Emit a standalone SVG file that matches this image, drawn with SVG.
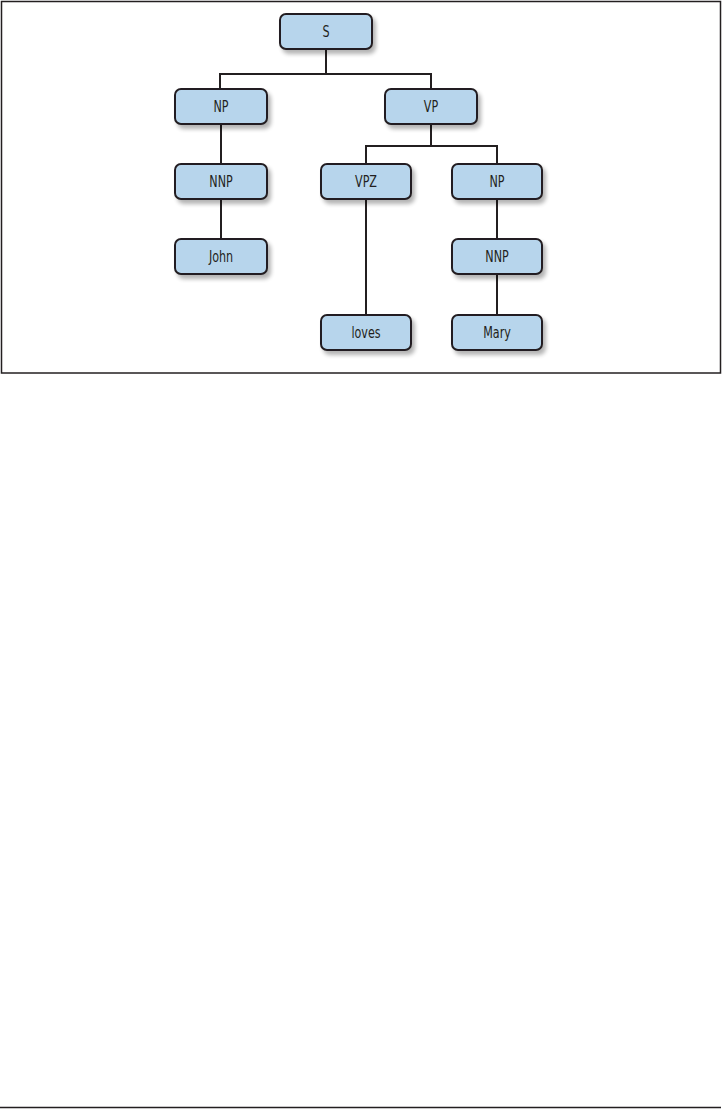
<svg xmlns="http://www.w3.org/2000/svg" width="722" height="1109" viewBox="0 0 722 1109">
<defs>
<filter id="sh" x="-20%" y="-30%" width="150%" height="180%">
<feGaussianBlur in="SourceAlpha" stdDeviation="2"/>
<feOffset dx="3" dy="4" result="b"/>
<feComponentTransfer><feFuncA type="linear" slope="0.3"/></feComponentTransfer>
<feMerge><feMergeNode/><feMergeNode in="SourceGraphic"/></feMerge>
</filter>
<style>
.box{fill:#b7d5ec;stroke:#231f20;stroke-width:2;filter:url(#sh)}
.lbl{font-family:"DejaVu Sans Condensed","Liberation Sans Narrow","Liberation Sans",sans-serif;font-stretch:condensed;font-size:15.5px;fill:#231f20;text-anchor:middle}
.c{fill:none;stroke:#231f20;stroke-width:2}
</style>
</defs>
<rect x="0" y="0" width="722" height="1109" fill="#ffffff"/>
<rect x="1.5" y="1.5" width="719" height="371.5" fill="none" stroke="#231f20" stroke-width="1.5"/>
<line x1="0" y1="1107.5" x2="721" y2="1107.5" stroke="#231f20" stroke-width="1.5"/>
<g id="connectors">
<path class="c" d="M326 49V74M220 89V74H431V89"/>
<path class="c" d="M221 124V164M221 199V239"/>
<path class="c" d="M431 124V146M366 164V146H497V164"/>
<path class="c" d="M366 199V315"/>
<path class="c" d="M497 199V239M497 274V315"/>
</g>
<g id="S"><rect class="box" x="280" y="14" width="92" height="35" rx="6"/><text class="lbl" transform="translate(326 37) scale(0.8 1)">S</text></g>
<g id="NP1"><rect class="box" x="175" y="89" width="92" height="35" rx="6"/><text class="lbl" transform="translate(221 112) scale(0.8 1)">NP</text></g>
<g id="VP"><rect class="box" x="385" y="89" width="92" height="35" rx="6"/><text class="lbl" transform="translate(431 112) scale(0.8 1)">VP</text></g>
<g id="NNP1"><rect class="box" x="175" y="164" width="92" height="35" rx="6"/><text class="lbl" transform="translate(221 187) scale(0.8 1)">NNP</text></g>
<g id="VPZ"><rect class="box" x="321" y="164" width="90" height="35" rx="6"/><text class="lbl" transform="translate(366 187) scale(0.8 1)">VPZ</text></g>
<g id="NP2"><rect class="box" x="452" y="164" width="90" height="35" rx="6"/><text class="lbl" transform="translate(497 187) scale(0.8 1)">NP</text></g>
<g id="John"><rect class="box" x="175" y="239" width="92" height="35" rx="6"/><text class="lbl" transform="translate(221 262) scale(0.8 1)">John</text></g>
<g id="NNP2"><rect class="box" x="452" y="239" width="90" height="35" rx="6"/><text class="lbl" transform="translate(497 262) scale(0.8 1)">NNP</text></g>
<g id="loves"><rect class="box" x="321" y="315" width="90" height="35" rx="6"/><text class="lbl" transform="translate(366 338) scale(0.8 1)">loves</text></g>
<g id="Mary"><rect class="box" x="452" y="315" width="90" height="35" rx="6"/><text class="lbl" transform="translate(497 338) scale(0.8 1)">Mary</text></g>
</svg>
